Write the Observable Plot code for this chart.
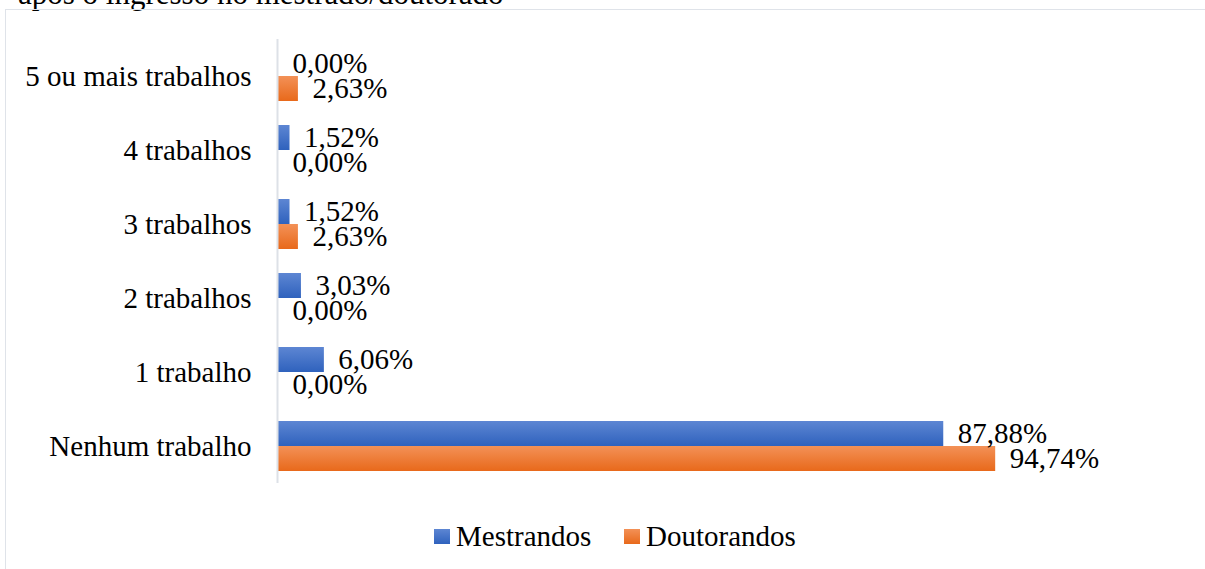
<!DOCTYPE html>
<html>
<head>
<meta charset="utf-8">
<script src="https://cdn.jsdelivr.net/npm/d3@7"></script>
<script src="https://cdn.jsdelivr.net/npm/@observablehq/plot@0.6"></script>
<style>
  html, body { margin: 0; padding: 0; background: #fff; }
  #wrap { position: relative; width: 1205px; height: 569px; overflow: hidden; font-family: "Liberation Serif", "Times New Roman", serif; }
  #title { position: absolute; left: 18px; top: -22px; font-size: 31px; line-height: 31px; color: #000; white-space: nowrap; }
  #box { position: absolute; left: 5px; top: 9px; width: 1300px; height: 700px; border: 1.5px solid #dfe3e9; box-sizing: border-box; }
  #chart { position: absolute; left: 0; top: 0; }
  #legend { position: absolute; top: 521px; left: 0; width: 1205px; font-size: 29px; line-height: 30px; color: #000; }
  .item { position: absolute; top: 0; white-space: nowrap; }
  .sw { position: absolute; top: 8px; width: 16px; height: 15px; }
  .lab { position: absolute; left: 22px; top: 0; }
</style>
</head>
<body>
<div id="wrap">
  <div id="title">após o ingresso no mestrado/doutorado</div>
  <div id="box"></div>
  <div id="chart"></div>
  <div id="legend"></div>
</div>
<script>
const categories = ["5 ou mais trabalhos", "4 trabalhos", "3 trabalhos", "2 trabalhos", "1 trabalho", "Nenhum trabalho"];
const mestrandos = [0.00, 1.52, 1.52, 3.03, 6.06, 87.88];
const doutorandos = [2.63, 0.00, 2.63, 0.00, 0.00, 94.74];
const seriesNames = ["Mestrandos", "Doutorandos"];
const seriesColors = ["#4472C4", "#ED7D31"];

const rows = [];
categories.forEach((c, i) => {
  rows.push({cat: c, series: seriesNames[0], value: mestrandos[i]});
  rows.push({cat: c, series: seriesNames[1], value: doutorandos[i]});
});
const mRows = rows.filter(d => d.series === seriesNames[0]);
const dRows = rows.filter(d => d.series === seriesNames[1]);
const fmt = v => v.toFixed(2).replace(".", ",") + "%";

const chart = Plot.plot({
  width: 1205,
  height: 500,
  marginTop: 39,
  marginBottom: 17,
  marginLeft: 278,
  marginRight: 170,
  style: {fontFamily: "'Liberation Serif', 'Times New Roman', serif", fontSize: "29px", color: "#000", background: "transparent", overflow: "visible"},
  x: {domain: [0, 100], axis: null},
  y: {domain: categories, padding: 0, label: null},
  marks: [
    Plot.barX(mRows, {x: "value", y: "cat", fill: "url(#gBlue)", insetTop: 12, insetBottom: 37}),
    Plot.barX(dRows, {x: "value", y: "cat", fill: "url(#gOrange)", insetTop: 37, insetBottom: 12}),
    Plot.ruleX([0], {stroke: "#dde1e7", strokeWidth: 2, dx: -1}),
    Plot.text(mRows, {x: "value", y: "cat", text: d => fmt(d.value), textAnchor: "start", dx: 14, dy: -12.5, fill: "#000", fontSize: 29}),
    Plot.text(dRows, {x: "value", y: "cat", text: d => fmt(d.value), textAnchor: "start", dx: 14, dy: 12.5, fill: "#000", fontSize: 29}),
    Plot.axisY({anchor: "left", tickSize: 0, tickPadding: 27, fontSize: 29, fill: "#000", label: null})
  ]
});

const ns = "http://www.w3.org/2000/svg";
const defs = document.createElementNS(ns, "defs");
function grad(id, top, bottom) {
  const g = document.createElementNS(ns, "linearGradient");
  g.setAttribute("id", id);
  g.setAttribute("x1", "0"); g.setAttribute("y1", "0");
  g.setAttribute("x2", "0"); g.setAttribute("y2", "1");
  [[0, top], [1, bottom]].forEach(([o, c]) => {
    const s = document.createElementNS(ns, "stop");
    s.setAttribute("offset", o);
    s.setAttribute("stop-color", c);
    g.appendChild(s);
  });
  defs.appendChild(g);
}
grad("gBlue", "#5d86d3", "#2f62bd");
grad("gOrange", "#f39157", "#e8691b");
chart.insertBefore(defs, chart.firstChild);
document.getElementById("chart").appendChild(chart);

const legend = document.getElementById("legend");
const legendX = [434, 624];
seriesNames.forEach((name, i) => {
  const it = document.createElement("div");
  it.className = "item";
  it.style.left = legendX[i] + "px";
  const sw = document.createElement("div");
  sw.className = "sw";
  sw.style.background = `linear-gradient(${i === 0 ? "#5d86d3, #2f62bd" : "#f39157, #e8691b"})`;
  const lab = document.createElement("span");
  lab.className = "lab";
  lab.textContent = name;
  it.appendChild(sw);
  it.appendChild(lab);
  legend.appendChild(it);
});
</script>
</body>
</html>
